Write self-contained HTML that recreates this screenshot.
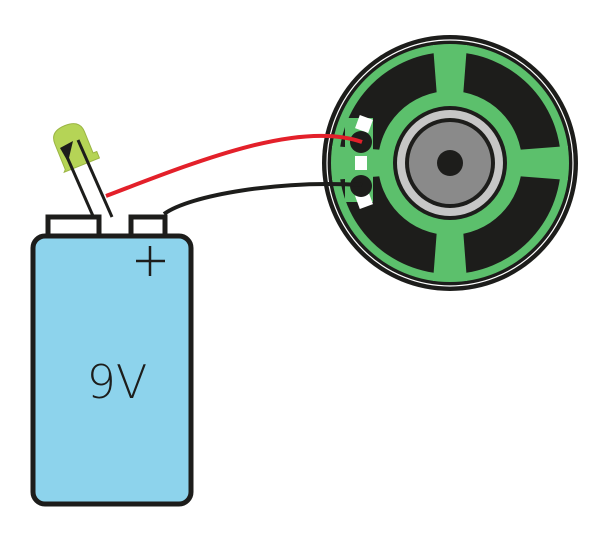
<!DOCTYPE html>
<html><head><meta charset="utf-8"><style>html,body{margin:0;padding:0;background:#fff;}svg{display:block}</style></head>
<body>
<svg width="603" height="534" viewBox="0 0 603 534" xmlns="http://www.w3.org/2000/svg">
<!-- speaker -->
<circle cx="450" cy="163" r="128" fill="#1d1d1b"/>
<circle cx="450" cy="163" r="123" fill="none" stroke="#fff" stroke-width="1.2"/>
<circle cx="450" cy="163" r="119" fill="#5cc06c"/>
<circle cx="450" cy="163" r="111" fill="#1d1d1b"/>
<path d="M433 45 L467 45 L462 110 L438 110 Z" fill="#5cc06c"/>
<path d="M433 281 L467 281 L462 216 L438 216 Z" fill="#5cc06c"/>
<path d="M568 146 L568 180 L503 175 L503 151 Z" fill="#5cc06c"/>
<path d="M332 146 L332 180 L397 175 L397 151 Z" fill="#5cc06c"/>
<circle cx="450" cy="163" r="72" fill="#5cc06c"/>
<circle cx="450" cy="163" r="57" fill="#1d1d1b"/>
<circle cx="450" cy="163" r="53" fill="#c6c6c6"/>
<circle cx="450" cy="163" r="45" fill="#1d1d1b"/>
<circle cx="450" cy="163" r="41" fill="#8a8a8a"/>
<circle cx="450" cy="163" r="13" fill="#1d1d1b"/>
<!-- terminals -->
<rect x="345" y="118" width="28" height="84" fill="#5cc06c"/>
<rect x="357" y="117" width="14" height="14" fill="#fff" transform="rotate(20 364 124)"/>
<rect x="355" y="156" width="12" height="14" fill="#fff"/>
<rect x="357" y="193" width="14" height="14" fill="#fff" transform="rotate(-20 364 200)"/>
<circle cx="361" cy="142" r="11" fill="#1d1d1b"/>
<circle cx="361" cy="186" r="11" fill="#1d1d1b"/>
<!-- wires -->
<path d="M106 196 C200 160 300 120 362 142" fill="none" stroke="#e3202a" stroke-width="4"/>
<path d="M164 214 C190 195 280 180 362 185" fill="none" stroke="#1d1d1b" stroke-width="4"/>
<!-- LED -->
<g transform="rotate(-22 73 146)">
<path d="M57 165 L57 137 Q57 124 73 124 Q89 124 89 137 L89 160 L93 160 L93 167 L55 167 Z" fill="#b5d456" stroke="#9bb544" stroke-width="1"/>
</g>
<line x1="64" y1="150" x2="93" y2="216" stroke="#1d1d1b" stroke-width="3"/>
<line x1="78" y1="140" x2="112" y2="217" stroke="#1d1d1b" stroke-width="3"/>
<path d="M60 148 L73 141 L68 162 Z" fill="#1d1d1b"/>
<!-- battery -->
<rect x="48" y="217" width="51" height="20" fill="#fff" stroke="#1d1d1b" stroke-width="5"/>
<rect x="131" y="217" width="34" height="20" fill="#fff" stroke="#1d1d1b" stroke-width="5"/>
<rect x="33" y="236" width="158" height="268" rx="12" fill="#8dd3ec" stroke="#1d1d1b" stroke-width="5"/>
<line x1="150" y1="246" x2="150" y2="276" stroke="#1d1d1b" stroke-width="2.5"/>
<line x1="136" y1="261" x2="165" y2="261" stroke="#1d1d1b" stroke-width="2.5"/>
<text x="117" y="398" text-anchor="middle" font-family="DejaVu Sans, sans-serif" font-weight="200" font-size="46" fill="#1d1d1b">9V</text>
</svg>
</body></html>
